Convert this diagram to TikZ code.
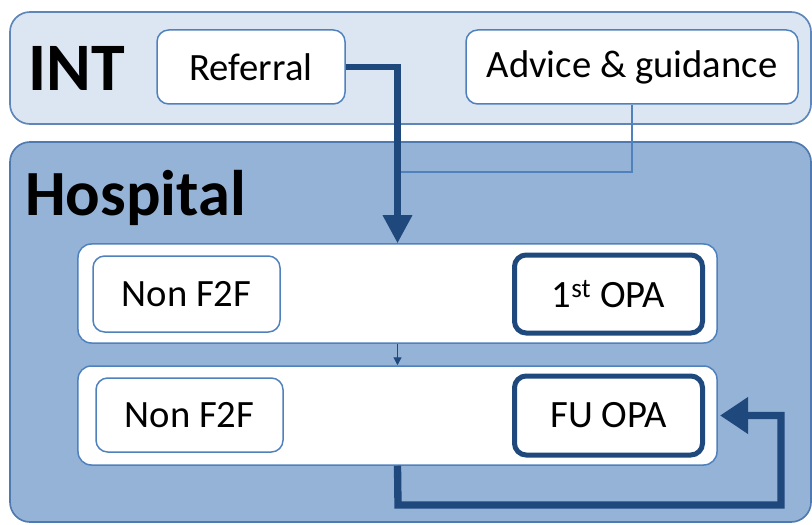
\documentclass[tikz,border=0pt]{standalone}
\usepackage{fontspec}
\setmainfont{Carlito}
\usetikzlibrary{arrows.meta}
\definecolor{intfill}{HTML}{DCE6F2}
\definecolor{intline}{HTML}{5E86B8}
\definecolor{hospfill}{HTML}{95B3D7}
\definecolor{hospline}{HTML}{4F7AB0}
\definecolor{boxline}{HTML}{4F81BD}
\definecolor{darkblue}{HTML}{1F497D}
\tikzset{
  panel/.style={draw, line width=0.5mm, rounded corners=6mm, inner sep=0pt},
  rowbox/.style={draw=boxline, fill=white, line width=0.45mm, rounded corners=4mm,
    minimum width=191.7mm, minimum height=29.7mm, inner sep=0pt},
  itembox/.style={draw=boxline, fill=white, line width=0.45mm, rounded corners=3.5mm,
    minimum height=22.2mm, inner sep=0pt, font=\fontsize{33}{39}\selectfont},
  keybox/.style={draw=darkblue, fill=white, line width=1.5mm, rounded corners=3.5mm,
    minimum width=56.4mm, minimum height=22.8mm, inner sep=0pt, font=\fontsize{33}{39}\selectfont},
  bigtitle/.style={anchor=west, inner sep=0pt, font=\fontsize{58}{64}\selectfont\bfseries},
  mainflow/.style={draw=darkblue, line width=1.9mm, line join=miter},
  sideflow/.style={draw=boxline, line width=0.6mm},
}
\begin{document}
\begin{tikzpicture}[x=0.3mm, y=-0.3mm]
\useasboundingbox (0,0) rectangle (812,525);
% panels
\node[panel, draw=intline, fill=intfill, minimum width=240.3mm, minimum height=33.6mm] (int) at (410.5,68) {};
\node[panel, draw=hospline, fill=hospfill, minimum width=240.3mm, minimum height=114mm] (hosp) at (410.5,332) {};
\node[bigtitle] (intlabel) at (28,68) {INT};
\node[bigtitle, font=\fontsize{55}{60}\selectfont\bfseries] (hosplabel) at (25,198) {Hospital};
% INT items
\node[itembox, minimum width=56.4mm] (referral) at (251,67) {Referral};
\node[itembox, minimum width=99.6mm] (advice) at (632,67) {Advice \& guidance};
% hospital rows
\node[rowbox] (row1) at (397.5,293.5) {};
\node[rowbox] (row2) at (397.5,415.5) {};
\node[itembox, minimum width=56.1mm, minimum height=22.8mm] (nf1) at (186.5,294) {Non F2F};
\node[keybox, minimum height=23.4mm] (opa1) at (608.5,294) {1\textsuperscript{st} OPA};
\node[itembox, minimum width=56.1mm] (nf2) at (189.5,415) {Non F2F};
\node[keybox, minimum height=23.7mm] (fu) at (608.5,415.5) {FU OPA};
% connectors
\coordinate (join) at (398,172);
\draw[sideflow] (advice.south) |- (join);
\draw[mainflow, -{Triangle[length=8.4mm, width=8.4mm]}] (referral.east) -| (row1.north);
\draw[draw=darkblue, line width=0.35mm, -{Triangle[length=2.4mm, width=2.4mm]}] (row1.south) -- (row2.north);
\coordinate (loopbl) at (398,505);
\coordinate (loopbr) at (781,505);
\draw[mainflow, line width=2.2mm, shorten >=4.5mm, -{Triangle[length=8.4mm, width=10.5mm]}]
  (row2.south) -- (loopbl) -- (loopbr) |- (fu.east);
\end{tikzpicture}
\end{document}
